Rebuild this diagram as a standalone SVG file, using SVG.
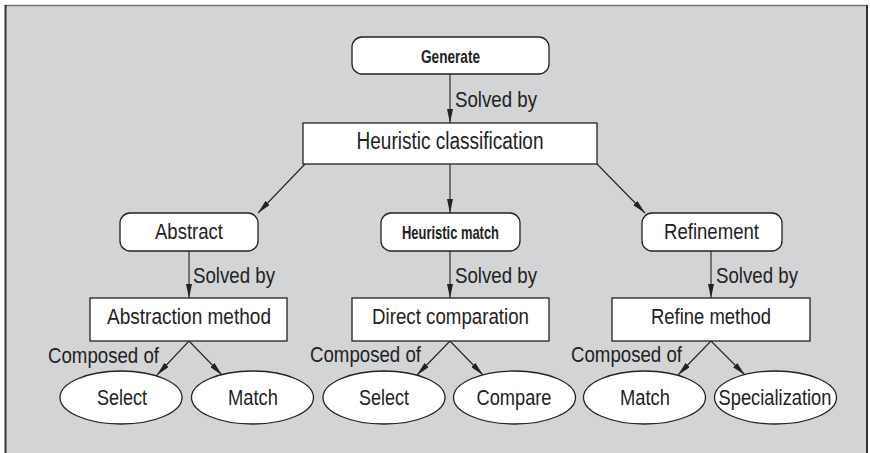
<svg xmlns="http://www.w3.org/2000/svg" width="870" height="453" viewBox="0 0 870 453">
  <style>
    .node { fill: #ffffff; stroke: #222222; stroke-width: 1.3; }
    .edge { fill: none; stroke: #222222; stroke-width: 1.1; marker-end: url(#arrow); }
    text { font-family: "Liberation Sans Narrow", "Liberation Sans", "DejaVu Sans Condensed", sans-serif; fill: #222222; }
    .lbl { font-size: 21.5px; text-anchor: middle; }
    .big { font-size: 23.5px; text-anchor: middle; }
    .bold { font-size: 19px; font-weight: bold; text-anchor: middle; }
    .edge-lbl { font-size: 21.5px; }
  </style>
  <defs>
    <marker id="arrow" viewBox="0 0 14 6" markerWidth="14" markerHeight="6" refX="14" refY="3" orient="auto" markerUnits="userSpaceOnUse">
      <path d="M0,0 L14,3 L0,6 z" fill="#222222"/>
    </marker>
  </defs>

  <!-- background panel -->
  <rect x="5" y="5" width="863" height="460" fill="#d3d4d6"/>
  <line x1="5" y1="5.5" x2="868" y2="5.5" stroke="#777777" stroke-width="1.5"/>
  <line x1="5.5" y1="5" x2="5.5" y2="453" stroke="#333333" stroke-width="2"/>
  <line x1="867" y1="5" x2="867" y2="453" stroke="#333333" stroke-width="2"/>

  <!-- connectors -->
  <g id="connectors">
    <line class="edge" x1="450" y1="74" x2="450" y2="123"/>
    <line class="edge" x1="305" y1="164" x2="258" y2="213"/>
    <line class="edge" x1="450" y1="164" x2="450" y2="213"/>
    <line class="edge" x1="597" y1="164" x2="645" y2="213"/>
    <line class="edge" x1="189" y1="251" x2="189" y2="298"/>
    <line class="edge" x1="450" y1="251" x2="450" y2="298"/>
    <line class="edge" x1="711" y1="251" x2="711" y2="298"/>
    <line class="edge" x1="189" y1="341" x2="157" y2="375"/>
    <line class="edge" x1="189" y1="341" x2="222" y2="375"/>
    <line class="edge" x1="450" y1="341" x2="417" y2="375"/>
    <line class="edge" x1="450" y1="341" x2="483" y2="375"/>
    <line class="edge" x1="711" y1="341" x2="678" y2="375"/>
    <line class="edge" x1="711" y1="341" x2="745" y2="375"/>
    <text class="edge-lbl" x="455" y="107" textLength="82" lengthAdjust="spacingAndGlyphs">Solved by</text>
    <text class="edge-lbl" x="193" y="283" textLength="82" lengthAdjust="spacingAndGlyphs">Solved by</text>
    <text class="edge-lbl" x="455" y="283" textLength="82" lengthAdjust="spacingAndGlyphs">Solved by</text>
    <text class="edge-lbl" x="716" y="283" textLength="82" lengthAdjust="spacingAndGlyphs">Solved by</text>
    <text class="edge-lbl" x="48" y="363" font-size="22.5" textLength="111" lengthAdjust="spacingAndGlyphs">Composed of</text>
    <text class="edge-lbl" x="310" y="362" font-size="22.5" textLength="111" lengthAdjust="spacingAndGlyphs">Composed of</text>
    <text class="edge-lbl" x="571" y="362" font-size="22.5" textLength="111" lengthAdjust="spacingAndGlyphs">Composed of</text>
  </g>

  <g id="generate">
    <rect class="node" x="352" y="37" width="197" height="37" rx="10"/>
    <text class="bold" x="450.5" y="63" textLength="59" lengthAdjust="spacingAndGlyphs">Generate</text>
  </g>
  <g id="heuristic-classification">
    <rect class="node" x="303" y="123" width="294" height="41"/>
    <text class="big" x="450" y="149" textLength="187" lengthAdjust="spacingAndGlyphs">Heuristic classification</text>
  </g>

  <g id="abstract">
    <rect class="node" x="120" y="213" width="138" height="38" rx="10"/>
    <text class="lbl" x="189" y="239" textLength="68" lengthAdjust="spacingAndGlyphs">Abstract</text>
  </g>
  <g id="heuristic-match">
    <rect class="node" x="381" y="213" width="139" height="38" rx="10"/>
    <text class="bold" x="450.5" y="239" font-size="20.5" textLength="97" lengthAdjust="spacingAndGlyphs">Heuristic match</text>
  </g>
  <g id="refinement">
    <rect class="node" x="642" y="213" width="140" height="38" rx="10"/>
    <text class="lbl" x="711.5" y="239" textLength="95" lengthAdjust="spacingAndGlyphs">Refinement</text>
  </g>

  <g id="abstraction-method">
    <rect class="node" x="90" y="298" width="197" height="43"/>
    <text class="lbl" x="189" y="324" textLength="164" lengthAdjust="spacingAndGlyphs">Abstraction method</text>
  </g>
  <g id="direct-comparation">
    <rect class="node" x="352" y="298" width="197" height="43"/>
    <text class="lbl" x="450.5" y="324" textLength="157" lengthAdjust="spacingAndGlyphs">Direct comparation</text>
  </g>
  <g id="refine-method">
    <rect class="node" x="612" y="298" width="198" height="43"/>
    <text class="lbl" x="711" y="324" textLength="120" lengthAdjust="spacingAndGlyphs">Refine method</text>
  </g>

  <g id="select-1">
    <ellipse class="node" cx="121" cy="397.5" rx="61" ry="26.5"/>
    <text class="lbl" x="122" y="404.5" textLength="50" lengthAdjust="spacingAndGlyphs">Select</text>
  </g>
  <g id="match-1">
    <ellipse class="node" cx="252.5" cy="397.5" rx="61" ry="26.5"/>
    <text class="lbl" x="253" y="404.5" textLength="50" lengthAdjust="spacingAndGlyphs">Match</text>
  </g>
  <g id="select-2">
    <ellipse class="node" cx="384" cy="397.5" rx="61" ry="26.5"/>
    <text class="lbl" x="384" y="404.5" textLength="50" lengthAdjust="spacingAndGlyphs">Select</text>
  </g>
  <g id="compare">
    <ellipse class="node" cx="514.5" cy="397.5" rx="61" ry="26.5"/>
    <text class="lbl" x="514" y="404.5" textLength="75" lengthAdjust="spacingAndGlyphs">Compare</text>
  </g>
  <g id="match-2">
    <ellipse class="node" cx="644.5" cy="397.5" rx="61" ry="26.5"/>
    <text class="lbl" x="645" y="404.5" textLength="50" lengthAdjust="spacingAndGlyphs">Match</text>
  </g>
  <g id="specialization">
    <ellipse class="node" cx="775.5" cy="397.5" rx="61" ry="26.5"/>
    <text class="lbl" x="775" y="404.5" textLength="113" lengthAdjust="spacingAndGlyphs">Specialization</text>
  </g>
</svg>
